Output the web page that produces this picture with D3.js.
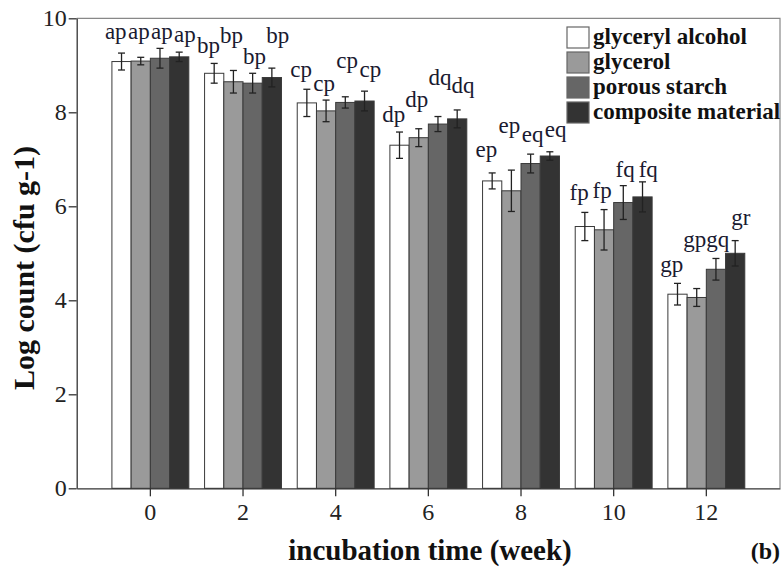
<!DOCTYPE html>
<html>
<head>
<meta charset="utf-8">
<script src="https://cdn.jsdelivr.net/npm/d3@7"></script>
<style>
  html, body { margin: 0; padding: 0; background: #fff; }
  svg { display: block; }
  text { font-family: "Liberation Serif", Tinos, "Times New Roman", Times, serif; }
</style>
</head>
<body>
<div id="chart"></div>
<script>
// ----- Data -----
const weeks = ["0", "2", "4", "6", "8", "10", "12"];
const seriesNames = ["glyceryl alcohol", "glycerol", "porous starch", "composite material"];

// mean log counts per week
const glycerylAlcohol   = [9.08, 8.83, 8.20, 7.30, 6.54, 5.57, 4.13];
const glycerol          = [9.09, 8.65, 8.03, 7.46, 6.33, 5.50, 4.06];
const porousStarch      = [9.15, 8.62, 8.21, 7.75, 6.91, 6.08, 4.66];
const compositeMaterial = [9.18, 8.74, 8.24, 7.86, 7.07, 6.20, 5.00];

// error bar half-widths
const glycerylAlcoholErr   = [0.18, 0.21, 0.29, 0.28, 0.17, 0.30, 0.23];
const glycerolErr          = [0.08, 0.24, 0.23, 0.19, 0.44, 0.43, 0.19];
const porousStarchErr      = [0.21, 0.21, 0.12, 0.16, 0.20, 0.36, 0.23];
const compositeMaterialErr = [0.10, 0.20, 0.21, 0.19, 0.09, 0.32, 0.27];

// significance letters
const glycerylAlcoholSig   = ["ap", "bp", "cp", "dp", "ep", "fp", "gp"];
const glycerolSig          = ["ap", "bp", "cp", "dp", "ep", "fp", "gp"];
const porousStarchSig      = ["ap", "bp", "cp", "dq", "eq", "fq", "gq"];
const compositeMaterialSig = ["ap", "bp", "cp", "dq", "eq", "fq", "gr"];

// where each letter sits (in log count units, as placed in the figure)
const glycerylAlcoholSigAt   = [9.56, 9.26, 8.75, 7.80, 7.05, 6.13, 4.60];
const glycerolSigAt          = [9.56, 9.47, 8.46, 8.12, 7.56, 6.18, 5.14];
const porousStarchSigAt      = [9.56, 9.03, 8.94, 8.58, 7.37, 6.63, 5.14];
const compositeMaterialSigAt = [9.50, 9.47, 8.75, 8.41, 7.48, 6.63, 5.60];

const yTicks = [0, 2, 4, 6, 8, 10];

// ----- Layout -----
const W = 782, H = 572;
const plot = { left: 76.7, right: 780, top: 18.3, bottom: 488.3 };
const fills = ["#ffffff", "#9a9a9a", "#666666", "#333333"];
const LABEL_SPREAD = 1.2;   // letters fan out a little wider than the bars

const means = [glycerylAlcohol, glycerol, porousStarch, compositeMaterial];
const errs = [glycerylAlcoholErr, glycerolErr, porousStarchErr, compositeMaterialErr];
const sigs = [glycerylAlcoholSig, glycerolSig, porousStarchSig, compositeMaterialSig];
const sigAt = [glycerylAlcoholSigAt, glycerolSigAt, porousStarchSigAt, compositeMaterialSigAt];

const rows = [];
weeks.forEach((w, i) => {
  seriesNames.forEach((s, j) => {
    rows.push({ week: w, series: s, v: means[j][i], e: errs[j][i], sig: sigs[j][i], sigY: sigAt[j][i], k: j });
  });
});

const svg = d3.select("#chart").append("svg")
  .attr("width", W)
  .attr("height", H);

// ----- Scales -----
const x0 = d3.scaleBand()
  .domain(weeks)
  .range([plot.left, plot.right])
  .paddingInner(0.17)
  .paddingOuter(0.38);

const x1 = d3.scaleBand()
  .domain(seriesNames)
  .range([0, x0.bandwidth()]);

const y = d3.scaleLinear()
  .domain([0, 10])
  .range([plot.bottom, plot.top]);

const barMid = d => x0(d.week) + x1(d.series) + x1.bandwidth() / 2;

// frame (top and right)
svg.append("path")
  .attr("d", `M${plot.left},${plot.top}H${plot.right}V${plot.bottom}`)
  .attr("fill", "none")
  .attr("stroke", "#888")
  .attr("stroke-width", 1.2);

// ----- Bars -----
const g = svg.append("g");
g.selectAll("rect.bar")
  .data(rows)
  .join("rect")
  .attr("class", "bar")
  .attr("x", d => x0(d.week) + x1(d.series))
  .attr("y", d => y(d.v))
  .attr("width", x1.bandwidth())
  .attr("height", d => y(0) - y(d.v))
  .attr("fill", d => fills[d.k])
  .attr("stroke", "#3a3a3a")
  .attr("stroke-width", 1);

// ----- Error bars -----
const cap = 3.5;
const eb = g.selectAll("g.err")
  .data(rows)
  .join("g")
  .attr("class", "err")
  .attr("transform", d => `translate(${barMid(d)},0)`);
eb.append("line")
  .attr("y1", d => y(d.v - d.e))
  .attr("y2", d => y(d.v + d.e))
  .attr("stroke", "#222")
  .attr("stroke-width", 1.3);
eb.append("line")
  .attr("x1", -cap).attr("x2", cap)
  .attr("y1", d => y(d.v + d.e)).attr("y2", d => y(d.v + d.e))
  .attr("stroke", "#222").attr("stroke-width", 1.3);
eb.append("line")
  .attr("x1", -cap).attr("x2", cap)
  .attr("y1", d => y(d.v - d.e)).attr("y2", d => y(d.v - d.e))
  .attr("stroke", "#222").attr("stroke-width", 1.3);

// ----- Significance letters -----
g.selectAll("text.sig")
  .data(rows)
  .join("text")
  .attr("class", "sig")
  .attr("x", d => {
    const c = x0(d.week) + x0.bandwidth() / 2;
    return c + (barMid(d) - c) * LABEL_SPREAD;
  })
  .attr("y", d => y(d.sigY))
  .attr("text-anchor", "middle")
  .attr("font-size", 23)
  .attr("fill", "#1a1a30")
  .text(d => d.sig);

// ----- Axes -----
const yAxisG = svg.append("g")
  .attr("transform", `translate(${plot.left},0)`)
  .call(d3.axisLeft(y).tickValues(yTicks).tickSize(8).tickSizeOuter(0).tickPadding(2));

const xAxisG = svg.append("g")
  .attr("transform", `translate(0,${plot.bottom})`)
  .call(d3.axisBottom(x0).tickSize(8).tickSizeOuter(0).tickPadding(7));

[yAxisG, xAxisG].forEach(a => {
  a.selectAll("path, line").attr("stroke", "#333").attr("stroke-width", 1.3);
  a.selectAll("text")
    .attr("font-family", "\"Liberation Serif\", Tinos, \"Times New Roman\", serif")
    .attr("font-size", 24)
    .attr("fill", "#222");
});

// ----- Axis titles -----
svg.append("text")
  .attr("transform", "translate(34,268) rotate(-90)")
  .attr("text-anchor", "middle")
  .attr("font-size", 30)
  .attr("font-weight", "bold")
  .attr("fill", "#111")
  .text("Log count (cfu g-1)");

svg.append("text")
  .attr("x", 430)
  .attr("y", 560)
  .attr("text-anchor", "middle")
  .attr("font-size", 29)
  .attr("font-weight", "bold")
  .attr("fill", "#111")
  .text("incubation time (week)");

svg.append("text")
  .attr("x", 780)
  .attr("y", 559)
  .attr("text-anchor", "end")
  .attr("font-size", 24)
  .attr("font-weight", "bold")
  .attr("fill", "#111")
  .text("(b)");

// ----- Legend -----
const legend = svg.append("g").attr("transform", "translate(567,27)");
const item = legend.selectAll("g")
  .data(seriesNames)
  .join("g")
  .attr("transform", (d, i) => `translate(0,${i * 25})`);
item.append("rect")
  .attr("width", 22)
  .attr("height", 21)
  .attr("fill", (d, i) => fills[i])
  .attr("stroke", "#666")
  .attr("stroke-width", 1.2);
item.append("text")
  .attr("x", 26)
  .attr("y", 17)
  .attr("font-size", 23)
  .attr("font-weight", "bold")
  .attr("fill", "#111")
  .text(d => d);
</script>
</body>
</html>
